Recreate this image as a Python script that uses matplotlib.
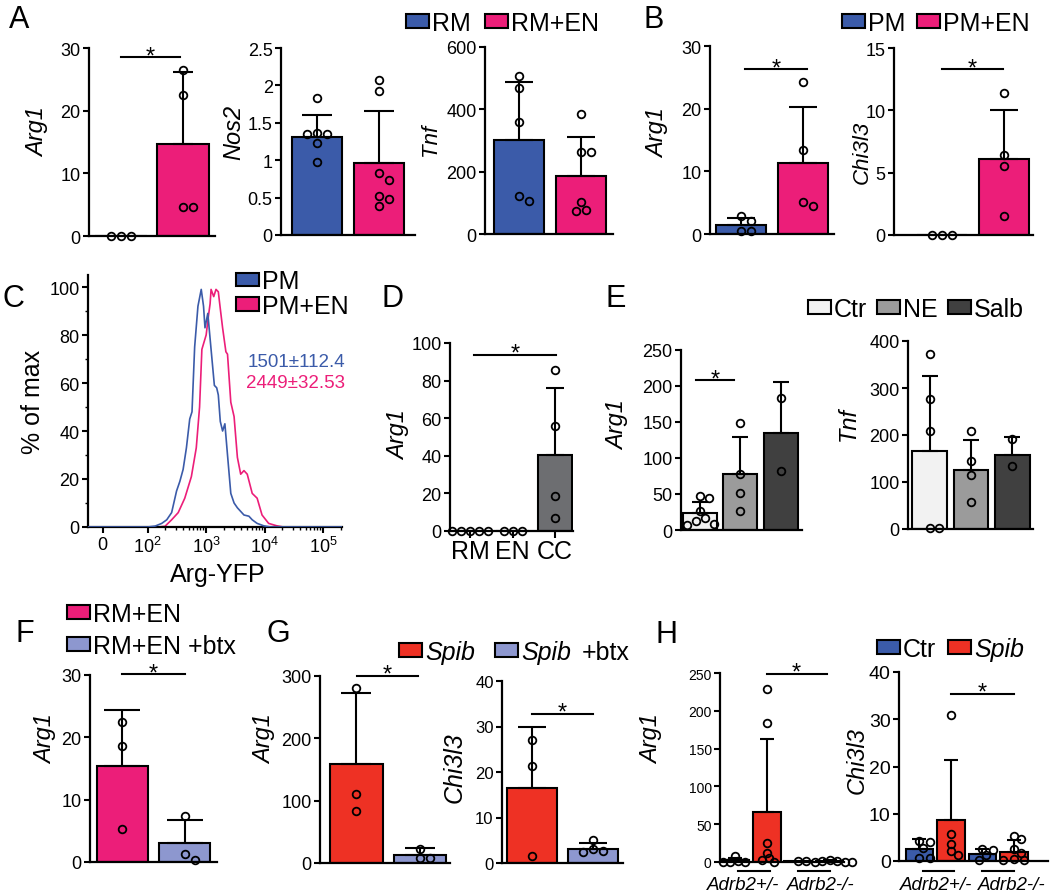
import numpy as np
import matplotlib
matplotlib.use("Agg")
import matplotlib.pyplot as plt
from matplotlib.patches import Rectangle
import matplotlib.ticker as mticker
from matplotlib.transforms import blended_transform_factory

plt.rcParams['font.family'] = ['Liberation Sans', 'DejaVu Sans']
plt.rcParams['mathtext.fontset'] = 'custom'
plt.rcParams['mathtext.rm'] = 'Liberation Sans'
plt.rcParams['mathtext.it'] = 'Liberation Sans:italic'

# ---------------- colours ----------------
BLUE = '#3B5BA9'; PINK = '#EC1E79'; RED = '#EE3124'; LAV = '#8D97CF'
CTR = '#F2F2F2'; NE = '#9B9B9B'; SALB = '#404040'; CCG = '#6D6E71'

# ---------------- data ----------------
# A
a_arg1_mean = [0, 14.7]; a_arg1_sd = [0, 11.5]
a_arg1_rm = [0, 0, 0]; a_arg1_rmen = [26.5, 22.5, 4.7, 4.7]
a_nos2_mean = [1.31, 0.96]; a_nos2_sd = [0.29, 0.70]
a_nos2_rm = [1.83, 1.37, 1.35, 1.35, 1.23, 0.97]
a_nos2_rmen = [2.07, 1.92, 0.83, 0.73, 0.52, 0.48, 0.39]
a_tnf_mean = [301, 187]; a_tnf_sd = [187, 125]
a_tnf_rm = [506, 467, 360, 121, 107]
a_tnf_rmen = [385, 263, 263, 104, 77, 75]
# B
b_arg1_mean = [1.44, 11.3]; b_arg1_sd = [1.1, 9.0]
b_arg1_pm = [2.9, 2.1, 0.5, 0.5]; b_arg1_pmen = [24.2, 13.4, 5.1, 4.4]
b_chi_mean = [0, 6.1]; b_chi_sd = [0, 3.95]
b_chi_pm = [0, 0, 0]; b_chi_pmen = [11.4, 6.4, 5.56, 1.55]
# C (histogram, Arg-YFP intensity vs % of max)
c_pm_x = [-33, 100, 135, 174, 212, 257, 312, 355, 404, 460, 524, 573, 636, 724, 824, 902,
          955, 1067, 1214, 1382, 1514, 1614, 1744, 1910, 2090, 2318, 2638, 3002, 3420,
          4430, 5380, 6130, 7440, 9640, 12500, 210000]
c_pm_y = [0, 0, 0.4, 1.5, 3, 6, 15, 19, 24, 33, 45, 48, 75, 92, 99, 92,
          83, 89, 74, 59, 58, 55, 44, 40, 43, 30, 14, 10, 8,
          5, 4.5, 3, 1.5, 0.5, 0, 0]
c_pmen_x = [-33, 150, 198, 257, 333, 431, 559, 678, 772, 845, 1000, 1095, 1168, 1214, 1347,
            1474, 1614, 1744, 1910, 2176, 2318, 2638, 3002, 3420, 3895, 4430, 5040, 6130,
            7440, 9020, 11700, 16100, 20900, 210000]
c_pmen_y = [0, 0, 0.3, 3, 6, 12, 21, 33, 50, 74, 80, 88, 93, 99, 96,
            99, 98, 91, 83, 73, 72, 52, 46, 29, 22, 23.5, 22, 14,
            12, 5, 1.5, 0.5, 0, 0]
c_stats = ['1501±112.4', '2449±32.53']
# D
d_cats = ['RM', 'EN', 'CC']
d_mean = [0, 0, 40.4]; d_sd = [0, 0, 35.6]
d_pts = [[0, 0, 0, 0, 0], [0, 0, 0], [85.6, 56, 18.6, 6.9]]
# E
e_arg1_mean = [24, 77.3, 134.7]; e_arg1_sd = [14.4, 51.4, 71.3]
e_arg1_pts = [[46.8, 44, 26, 16, 12, 8.3, 6.5], [148, 78, 51, 26], [184, 82]]
e_tnf_mean = [165.7, 125, 157]; e_tnf_sd = [160, 65, 39]
e_tnf_pts = [[373, 276, 208, 3, 3], [209.5, 145, 114, 56.6], [191, 133]]
# F
f_mean = [15.4, 3.04]; f_sd = [9.0, 3.66]
f_pts = [[22.5, 18.6, 5.3], [7.3, 1.3, 0.27]]
# G
g_arg1_mean = [158.8, 13.3]; g_arg1_sd = [114.2, 10.7]
g_arg1_pts = [[281, 110, 84], [23, 8.5, 8.5]]
g_chi_mean = [16.5, 3.1]; g_chi_sd = [13.4, 1.4]
g_chi_pts = [[27, 21.3, 1.6], [5.1, 3.1, 2.5, 2.6]]
# H  (Ctr Adrb2+/-, Spib Adrb2+/-, Ctr Adrb2-/-, Spib Adrb2-/-)
h_groups = ['Adrb2+/-', 'Adrb2-/-']
h_arg1_mean = [2.0, 65.5, 1.2, 1.0]; h_arg1_sd = [3.0, 97.5, 0, 1.5]
h_arg1_pts = [[7.5, 1.0, 0.5, 0.3, 0.5], [229, 183.5, 25, 12, 5, 3, 0.5],
              [1.5, 1.0], [2, 1, 0.5, 0.5, 0.3, 0.8]]
h_chi_mean = [2.6, 8.6, 1.55, 1.9]; h_chi_sd = [2.1, 12.7, 1.05, 2.5]
h_chi_pts = [[4.3, 4.1, 2.8, 0.7, 0.6], [31, 5.8, 3.7, 2.1, 1.2],
             [2.6, 2.4, 1.2, 0.3], [5.3, 4.7, 2.6, 1.6, 0.5, 0.2, 0.2]]

# ---------------- figure helpers ----------------
W, H = 1050, 895
PT = 72 / 100  # points per pixel
fig = plt.figure(figsize=(W / 100, H / 100), dpi=100)


def add_ax(box):
    l, r, t, b = box
    return fig.add_axes([l / W, 1 - b / H, (r - l) / W, (b - t) / H])


def style(ax, fs):
    for s in ['top', 'right']:
        ax.spines[s].set_visible(False)
    for s in ['left', 'bottom']:
        ax.spines[s].set_linewidth(1.6)
    ax.tick_params(axis='y', direction='out', length=4.5, width=1.5,
                   labelsize=fs, pad=1.5)


def swarm_offsets(vals, ppy, d, step):
    placed = []
    offs = np.zeros(len(vals))
    order = np.argsort(-np.asarray(vals, float), kind='stable')
    cands = [0.0]
    for k in range(1, 14):
        cands += [k * step / 2, -k * step / 2]
    for i in order:
        y = vals[i] * ppy
        c = 0.0
        for c in cands:
            if all((c - px) ** 2 + (y - py) ** 2 >= (0.9 * d) ** 2 for px, py in placed):
                break
        placed.append((c, y))
        offs[i] = c
    return offs


def bar_panel(box, xlim, ymax, yticks, means, sds, pts, colors, width,
              fs=13, sig=None, d=10, step=10, capfrac=0.55, ylabels=None):
    ax = add_ax(box)
    l, r, t, b = box
    ppx = (r - l) / (xlim[1] - xlim[0])
    ppy = (b - t) / ymax
    x = np.arange(len(means))
    ax.set_xlim(*xlim)
    ax.set_ylim(0, ymax)
    ax.bar(x, means, width=width, color=colors, edgecolor='black',
           linewidth=1.5, zorder=2)
    cap = width * ppx * capfrac / 2 * PT
    for xi, m, s in zip(x, means, sds):
        if s > 0:
            ax.errorbar([xi], [m], yerr=[[0], [s]], fmt='none', ecolor='black',
                        elinewidth=1.5, capsize=cap, capthick=1.5, zorder=3)
    for xi, vals in zip(x, pts):
        offs = swarm_offsets(vals, ppy, d, step) / ppx
        ax.plot(xi + offs, vals, 'o', ms=5.5, mfc='none', mec='black', mew=1.3,
                zorder=4, clip_on=False)
    ax.set_yticks(yticks)
    if ylabels is not None:
        ax.set_yticklabels(ylabels)
    ax.set_xticks([])
    style(ax, fs)
    if sig:
        x1, x2, y = sig
        ax.plot([x1, x2], [y, y], color='black', lw=1.5, clip_on=False)
        ax.annotate('*', (0.5 * (x1 + x2), y), xytext=(0, -3.5),
                    textcoords='offset points', ha='center', va='baseline',
                    fontsize=17, annotation_clip=False)
    return ax


def ylab(x, y, s, fs=17, italic=True):
    fig.text(x / W, 1 - y / H, s, rotation=90, ha='center', va='center',
             fontsize=fs, style='italic' if italic else 'normal')


def leg(x, y, color, label, fs=18, italic=False, w=23, h=14, extra=None):
    fig.add_artist(Rectangle((x / W, 1 - (y + h / 2) / H), w / W, h / H,
                             transform=fig.transFigure, facecolor=color,
                             edgecolor='black', lw=1.5))
    base = y + 0.358 * fs / PT
    fig.text((x + w + 3) / W, 1 - base / H, label, fontsize=fs, va='baseline',
             ha='left', style='italic' if italic else 'normal')
    if extra:
        ex, es = extra
        fig.text(ex / W, 1 - base / H, es, fontsize=fs, va='baseline', ha='left')


def letter(x, base, s):
    fig.text(x / W, 1 - base / H, s, fontsize=22, va='baseline', ha='left')


# ---------------- Panel A ----------------
letter(9, 28, 'A')
bar_panel((89, 215, 49, 237), (-0.52, 1.52), 30, [0, 10, 20, 30],
          a_arg1_mean, a_arg1_sd, [a_arg1_rm, a_arg1_rmen], [BLUE, PINK], 0.84,
          sig=(0, 0.95, 28.5), capfrac=0.4)
ylab(38, 132, 'Arg1')
bar_panel((281, 415, 49, 236), (-0.58, 1.58), 2.5, [0, 0.5, 1, 1.5, 2, 2.5],
          a_nos2_mean, a_nos2_sd, [a_nos2_rm, a_nos2_rmen], [BLUE, PINK], 0.82,
          ylabels=['0', '0.5', '1', '1.5', '2', '2.5'], capfrac=0.6)
ylab(234, 132, 'Nos2')
bar_panel((485, 613, 48, 235), (-0.55, 1.52), 600, [0, 200, 400, 600],
          a_tnf_mean, a_tnf_sd, [a_tnf_rm, a_tnf_rmen], [BLUE, PINK], 0.81)
ylab(431, 140, 'Tnf', fs=16)
leg(406, 22, BLUE, 'RM')
leg(485, 22, PINK, 'RM+EN')

# ---------------- Panel B ----------------
letter(643, 28, 'B')
bar_panel((710, 834, 47, 235), (-0.5, 1.5), 30, [0, 10, 20, 30],
          b_arg1_mean, b_arg1_sd, [b_arg1_pm, b_arg1_pmen], [BLUE, PINK], 0.82,
          sig=(0.07, 1.06, 26.3))
ylab(658, 133, 'Arg1')
bar_panel((894, 1033, 49, 236), (-0.77, 1.47), 15, [0, 5, 10, 15],
          b_chi_mean, b_chi_sd, [b_chi_pm, b_chi_pmen], [BLUE, PINK], 0.81,
          sig=(0.0, 0.98, 13.3))
ylab(862, 152, 'Chi3l3', fs=16)
leg(842, 22, BLUE, 'PM')
leg(917, 22, PINK, 'PM+EN')

# ---------------- Panel C ----------------
letter(3, 307, 'C')
axc = add_ax((88, 342, 276, 528))
axc.set_xscale('symlog', linthresh=100, linscale=0.69)
axc.set_xlim(-33, 2.1e5)
axc.set_ylim(0, 105)
axc.plot(c_pmen_x, c_pmen_y, color=PINK, lw=1.2, zorder=2)
axc.plot(c_pm_x, c_pm_y, color=BLUE, lw=1.2, zorder=3)
axc.set_xticks([0, 100, 1000, 10000, 100000])
axc.set_xticklabels(['0', r'$10^2$', r'$10^3$', r'$10^4$', r'$10^5$'])
axc.xaxis.set_minor_locator(mticker.SymmetricalLogLocator(
    base=10, linthresh=100, subs=np.arange(2, 10)))
axc.set_yticks([0, 20, 40, 60, 80, 100])
axc.yaxis.set_minor_locator(mticker.MultipleLocator(10))
style(axc, 13)
axc.tick_params(axis='x', direction='out', length=4.5, width=1.5, labelsize=13, pad=2)
axc.tick_params(which='minor', direction='out', length=2.5, width=1.0)
ylab(33, 402, '% of max', fs=18, italic=False)
fig.text(218 / W, 1 - 575 / H, 'Arg-YFP', fontsize=18, ha='center', va='center')
fig.text(345 / W, 1 - 367 / H, c_stats[0], color=BLUE, fontsize=13.5, ha='right', va='baseline')
fig.text(345 / W, 1 - 388 / H, c_stats[1], color=PINK, fontsize=13.5, ha='right', va='baseline')
leg(236, 280, BLUE, 'PM', h=13)
leg(236, 305, PINK, 'PM+EN', h=13)

# ---------------- Panel D ----------------
letter(381, 307, 'D')
axd = bar_panel((450, 573, 344, 532), (-0.47, 2.42), 100, [0, 20, 40, 60, 80, 100],
                d_mean, d_sd, d_pts, [CCG, CCG, CCG], 0.79,
                sig=(0.1, 2.03, 93.6), d=7, step=6)
axd.set_xticks([0, 1, 2])
axd.set_xticklabels(d_cats)
axd.tick_params(axis='x', direction='out', length=5, width=1.5, labelsize=18, pad=1)
ylab(399, 435, 'Arg1')

# ---------------- Panel E ----------------
letter(606, 307, 'E')
bar_panel((681, 802, 351, 531), (-0.47, 2.52), 250, [0, 50, 100, 150, 200, 250],
          e_arg1_mean, e_arg1_sd, e_arg1_pts, [CTR, NE, SALB], 0.84,
          sig=(-0.1, 0.85, 208), d=9, step=9, capfrac=0.45)
ylab(618, 425, 'Arg1')
bar_panel((908, 1033, 342, 530), (-0.52, 2.5), 400, [0, 100, 200, 300, 400],
          e_tnf_mean, e_tnf_sd, e_tnf_pts, [CTR, NE, SALB], 0.84,
          d=9, step=9, capfrac=0.45)
ylab(848, 424, 'Tnf')
leg(808, 308, CTR, 'Ctr')
leg(877, 308, NE, 'NE')
leg(948, 308, SALB, 'Salb')

# ---------------- Panel F ----------------
letter(15, 642, 'F')
bar_panel((90, 217, 676, 863), (-0.52, 1.52), 30, [0, 10, 20, 30],
          f_mean, f_sd, f_pts, [PINK, LAV], 0.82, sig=(0, 1, 30.1), capfrac=0.72)
ylab(46, 739, 'Arg1')
leg(67, 613, PINK, 'RM+EN')
leg(67, 645, LAV, 'RM+EN +btx')

# ---------------- Panel G ----------------
letter(266, 642, 'G')
bar_panel((320, 450, 677, 864), (-0.57, 1.47), 300, [0, 100, 200, 300],
          g_arg1_mean, g_arg1_sd, g_arg1_pts, [RED, LAV], 0.83, sig=(0.01, 0.97, 300))
ylab(265, 739, 'Arg1')
bar_panel((502, 623, 682, 864), (-0.5, 1.5), 40, [0, 10, 20, 30, 40],
          g_chi_mean, g_chi_sd, g_chi_pts, [RED, LAV], 0.83, sig=(0, 1, 32.8), fs=12)
ylab(455, 768, 'Chi3l3', fs=18)
leg(399, 651, RED, 'Spib', italic=True)
leg(495, 651, LAV, 'Spib', italic=True, extra=(582, '+btx'))

# ---------------- Panel H ----------------
letter(656, 643, 'H')
hcolors = [BLUE, RED, BLUE, RED]
axh1 = bar_panel((720, 844, 674, 863), (-0.48, 3.45), 250, [0, 50, 100, 150, 200, 250],
                 h_arg1_mean, h_arg1_sd, h_arg1_pts, hcolors, 0.88,
                 sig=(1, 2.9, 249), fs=10, d=6, step=5, capfrac=0.5)
ylab(652, 739, 'Arg1')
axh2 = bar_panel((899, 1048, 673, 862), (-0.65, 4.08), 40, [0, 10, 20, 30, 40],
                 h_chi_mean, h_chi_sd, h_chi_pts, hcolors, 0.86,
                 sig=(1, 3, 35.4), fs=14, d=8, step=7, capfrac=0.5)
ylab(857, 761, 'Chi3l3')
for axh, lefts in ((axh1, (707, 787)), (axh2, (900, 978))):
    tr = blended_transform_factory(axh.transData, fig.transFigure)
    for (x1, x2), g, lx in zip([(0.1, 1.1), (2.0, 3.0)], h_groups, lefts):
        axh.plot([x1, x2], [1 - 872 / H, 1 - 872 / H], color='black', lw=1.5,
                 transform=tr, clip_on=False)
        fig.text(lx / W, 1 - 877 / H, g, ha='left', va='top', fontsize=13.5,
                 style='italic')
leg(877, 648, BLUE, 'Ctr')
leg(948, 648, RED, 'Spib', italic=True)

fig.savefig('out.png', dpi=100)
